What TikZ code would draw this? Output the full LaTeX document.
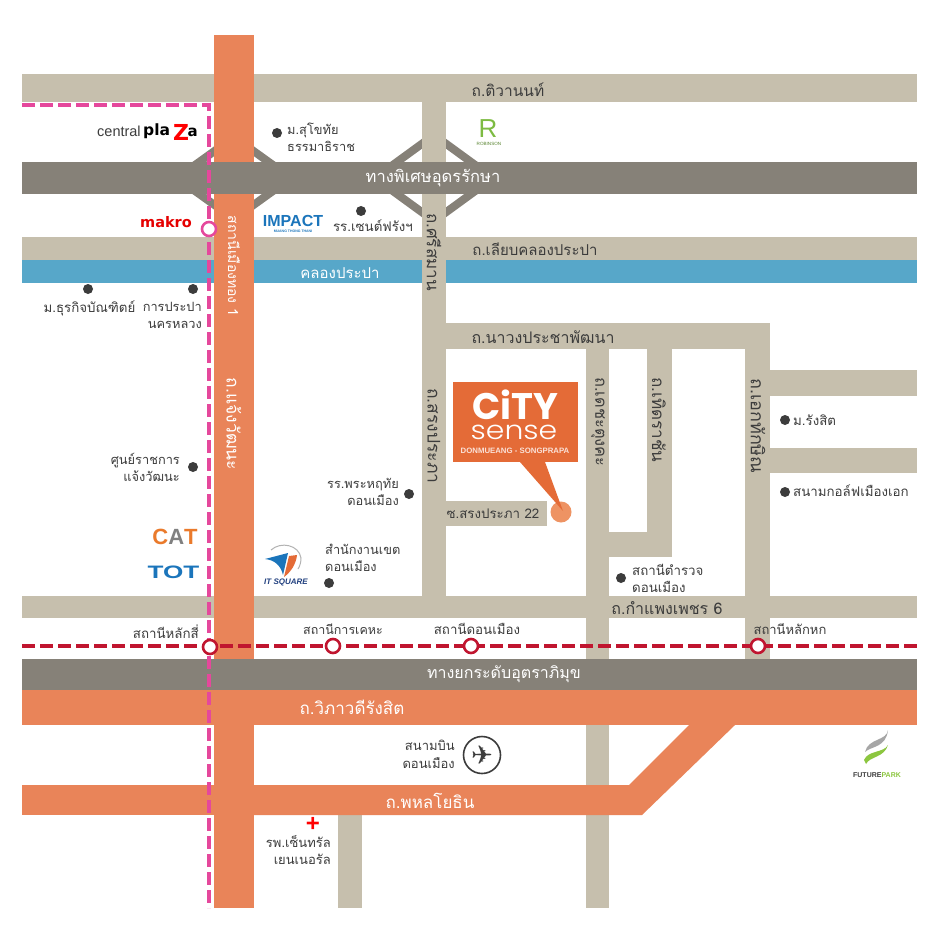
\documentclass[tikz,border=0pt]{standalone}
\usepackage{xcolor}
\usepackage{tikz}
\usepackage{fontspec}
\setmainfont[Script=Thai]{Loma}
\newfontfamily\logofont{Liberation Sans}
\newfontfamily\heavyfont{DejaVu Sans}
\newfontfamily\cityfont{Poppins}
\newfontfamily\senselight{Poppins Light}
\newfontfamily\planefont{DejaVu Sans}
\definecolor{roadcol}{HTML}{C6BFAD}
\definecolor{expresscol}{HTML}{868178}
\definecolor{maincol}{HTML}{E98459}
\definecolor{canalcol}{HTML}{57A7C9}
\definecolor{pinkcol}{HTML}{E5489C}
\definecolor{redcol}{HTML}{C0152F}
\definecolor{darkcol}{HTML}{3C3C3C}
\definecolor{citycol}{HTML}{E46B37}
\definecolor{pincol}{HTML}{EE9363}
\definecolor{logoblue}{HTML}{1B75BB}
\definecolor{navycol}{HTML}{21407F}
\definecolor{catcol}{HTML}{EA7A2B}
\definecolor{robincol}{HTML}{7DBB42}
\definecolor{parkcol}{HTML}{8CC63F}
\newcommand{\sz}[1]{\fontsize{#1}{#1}\selectfont}
\begin{document}
\begin{tikzpicture}[x=1pt, y=-1pt,
	road/.style = {fill=roadcol},
	express/.style = {fill=expresscol},
	mainroad/.style = {fill=maincol},
	ramp/.style = {draw=expresscol, line width=8pt},
	lbl/.style = {text=darkcol, font=\fontsize{13.3}{17}\selectfont, inner sep=0pt, align=center},
	lblr/.style = {lbl, align=right, anchor=east},
	lbll/.style = {lbl, align=left, anchor=west},
	rdlbl/.style = {lbl, font=\sz{15.5}},
	wlbl/.style = {text=white, font=\sz{16}, inner sep=0pt},
	vlbl/.style = {lbl, rotate=-90, font=\sz{17}},
	spot/.style = {circle, fill=darkcol, minimum size=10pt, inner sep=0pt},
	redst/.style = {circle, draw=redcol, fill=white, line width=2.6pt, minimum size=14pt, inner sep=0pt},
	pinkst/.style = {circle, draw=pinkcol, fill=white, line width=2.6pt, minimum size=14pt, inner sep=0pt},
	redline/.style = {draw=redcol, line width=3.8pt, dash pattern=on 13pt off 5pt},
	pinkline/.style = {draw=pinkcol, line width=3.8pt, dash pattern=on 13pt off 5pt},
	logo/.style = {inner sep=0pt}]
	\useasboundingbox (0,0) rectangle (941,941);
	\fill[white] (0,0) rectangle (941,941);

	\draw[ramp] (234,137) -- (177,178) -- (234,219) -- (291,178) -- cycle;
	\draw[ramp] (434,135) -- (375,178) -- (434,221) -- (493,178) -- cycle;
	\fill[road] (22,74) rectangle (917,102);
	\fill[road] (22,237) rectangle (917,260);
	\fill[canalcol] (22,260) rectangle (917,283);
	\fill[road] (422,102) rectangle (446,597);
	\fill[road] (446,323) rectangle (770,349);
	\fill[road] (586,349) rectangle (609,908);
	\fill[road] (647,349) rectangle (672,557);
	\fill[road] (609,532) rectangle (647,557);
	\fill[road] (745,349) rectangle (770,660);
	\fill[road] (770,370) rectangle (917,396);
	\fill[road] (770,448) rectangle (917,473);
	\fill[road] (446,501) rectangle (547,526);
	\fill[road] (22,596) rectangle (917,618);
	\fill[road] (338,815) rectangle (362,908);
	\fill[mainroad] (214,35) rectangle (254,908);
	\fill[express] (22,162) rectangle (917,194);
	\fill[express] (22,659) rectangle (917,690);
	\fill[mainroad] (22,690) rectangle (917,725);
	\fill[mainroad] (22,785) rectangle (254,815);
	\fill[mainroad] (254,785) -- (629,785) -- (689,725) -- (735,725) -- (642,815) -- (254,815) -- cycle;

	\coordinate (pinkW) at (22,105);
	\coordinate (pinkC) at (209,105);
	\coordinate (pinkS) at (209,908);
	\coordinate (redW) at (22,646);
	\coordinate (redE) at (917,646);
	\draw[pinkline] (pinkW) -- (pinkC) -- (pinkS);
	\draw[redline] (redW) -- (redE);
	\node[pinkst] (muangthong) at (209,229) {};
	\node[redst] (laksi) at (210,647) {};
	\node[redst] (kheha) at (333,646) {};
	\node[redst] (donmueang) at (471,646) {};
	\node[redst] (lakhok) at (758,646) {};

	\node[rdlbl] (tiwanon) at (508,90) {ถ.ติวานนท์};
	\node[wlbl, font=\sz{16.5}] (udon) at (433,178) {ทางพิเศษอุดรรักษา};
	\node[rdlbl, font=\sz{15}] (liap) at (535,249) {ถ.เลียบคลองประปา};
	\node[wlbl, font=\sz{15}] (canal) at (340,273) {คลองประปา};
	\node[rdlbl, font=\sz{16}] (nawong) at (543,337) {ถ.นาวงประชาพัฒนา};
	\node[lbl] (soi) at (493,514) {ซ.สรงประภา 22};
	\node[rdlbl, font=\sz{16}] (kamphaeng) at (667,608) {ถ.กำแพงเพชร 6};
	\node[wlbl] (uttara) at (504,674) {ทางยกระดับอุตราภิมุข};
	\node[wlbl, font=\sz{17}] (vibha) at (352,707) {ถ.วิภาวดีรังสิต};
	\node[wlbl, font=\sz{17}] (phahon) at (430,801) {ถ.พหลโยธิน};
	\node[vlbl] (srisaman) at (434,252) {ถ.ศรีสมาน};
	\node[vlbl, font=\sz{17.5}] (songprapa) at (434,436) {ถ.สรงประภา};
	\node[vlbl, font=\sz{16.4}] (decha) at (598,422) {ถ.เดชะตุงคะ};
	\node[vlbl] (therd) at (659,420) {ถ.เทิดราชัน};
	\node[vlbl, font=\sz{18}] (ekthak) at (758,426) {ถ.เอกทักษิณ};
	\node[wlbl, rotate=-90, font=\sz{14}] (mtst) at (234,266) {สถานีเมืองทอง 1};
	\node[wlbl, rotate=-90, font=\sz{17.5}] (chaeng) at (234,424) {ถ.แจ้งวัฒนะ};

	\node[spot] (d1) at (277,133) {};
	\node[lbll, font=\fontsize{12.8}{17}\selectfont] (sukhothai) at (287,137) {ม.สุโขทัย\\ธรรมาธิราช};
	\node[spot] (d2) at (361,211) {};
	\node[lbl] (french) at (373,226) {รร.เซนต์ฟรังฯ};
	\node[spot] (d3) at (88,289) {};
	\node[lbl] (dhurakij) at (89.5,308) {ม.ธุรกิจบัณฑิตย์};
	\node[spot] (d4) at (193,289) {};
	\node[lblr, font=\fontsize{12.8}{17}\selectfont] (prapa) at (202,315) {การประปา\\นครหลวง};
	\node[spot] (d5) at (193,467) {};
	\node[lblr, font=\fontsize{12.8}{17}\selectfont] (govt) at (180,467) {ศูนย์ราชการ\\แจ้งวัฒนะ};
	\node[spot] (d6) at (409,494) {};
	\node[lblr, font=\fontsize{12.8}{17}\selectfont] (phrahru) at (399,492) {รร.พระหฤทัย\\ดอนเมือง};
	\node[spot] (d7) at (329,583) {};
	\node[lbll, font=\fontsize{12.8}{17}\selectfont] (khet) at (325,558) {สำนักงานเขต\\ดอนเมือง};
	\node[spot] (d8) at (785,420) {};
	\node[lbll] (rangsit) at (793,420) {ม.รังสิต};
	\node[spot] (d9) at (785,492) {};
	\node[lbll] (golf) at (793,491) {สนามกอล์ฟเมืองเอก};
	\node[spot] (d10) at (621,578) {};
	\node[lbll] (police) at (632,578) {สถานีตำรวจ\\ดอนเมือง};

	\node[lblr] (laksilbl) at (199,632) {สถานีหลักสี่};
	\node[lbl, font=\sz{12.5}] (khehalbl) at (343,629) {สถานีการเคหะ};
	\node[lbl] (donlbl) at (477,629) {สถานีดอนเมือง};
	\node[lbl, font=\sz{13}] (hoklbl) at (790,629) {สถานีหลักหก};

	\node[lblr, font=\fontsize{13}{18}\selectfont] (airport) at (455,754) {สนามบิน\\ดอนเมือง};
	\node[circle, draw=darkcol, line width=1.6pt, minimum size=37pt, inner sep=0pt, text=darkcol, font=\planefont\sz{26}] (plane) at (482,755) {✈};
	\node[logo, text=red, font=\logofont\bfseries\sz{24}] (cross) at (313,824) {+};
	\node[lblr, font=\fontsize{13}{17}\selectfont] (central) at (331,850) {รพ.เซ็นทรัล\\เยนเนอรัล};

	\node[logo, anchor=west, text=darkcol, font=\logofont\sz{14.5}] (cplaza) at (97,131) {central};
	\node[logo, anchor=west, text=black, font=\heavyfont\bfseries\sz{15.5}] (plaPart) at (143,131) {pla};
	\node[logo, text=red, font=\heavyfont\bfseries\sz{22}] (zPart) at (181,132) {Z};
	\node[logo, anchor=east, text=black, font=\heavyfont\bfseries\sz{15}] (aPart) at (198,132) {a};
	\node[logo, text=red!90!black, font=\heavyfont\bfseries\sz{14.5}] (makro) at (166,222) {makro};
	\node[logo, text=logoblue, font=\logofont\bfseries\sz{16}] (impact) at (293,220.5) {IMPACT};
	\node[logo, text=logoblue, font=\logofont\bfseries\sz{3.5}] (mtt) at (293,231) {MUANG THONG THANI};
	\node[logo, text=robincol, font=\logofont\sz{26}] (robinson) at (488,129) {R};
	\node[logo, text=robincol!70!black, font=\logofont\sz{4.6}] (robtext) at (489,144) {ROBINSON};
	\node[logo, font=\logofont\bfseries\sz{22}] (cat) at (175,537) {\textcolor{catcol}{C}\textcolor{gray}{A}\textcolor{catcol}{T}};
	\node[logo, text=logoblue, font=\logofont\bfseries\sz{18}] (tot) at (173.5,572) {\scalebox{1.45}[1]{TOT}};

	\draw[gray!60, line width=1pt] (271,550) .. controls (281,541) and (299,545) .. (301,558) .. controls (301,562) and (300,566) .. (298,569);
	\fill[logoblue] (265,559) -- (288,553) -- (283,575) .. controls (281,566) and (275,560) .. (265,559) -- cycle;
	\fill[citycol] (284,577) -- (289,556) -- (297,555) .. controls (296,564) and (291,572) .. (284,577) -- cycle;
	\node[logo, text=navycol, font=\logofont\itshape\bfseries\sz{8}] (itsq) at (286,582) {IT SQUARE};

	\fill[gray!70] (888,730) .. controls (887,741) and (868,738) .. (865,752) .. controls (871,746) and (886,748) .. (888,730) -- cycle;
	\fill[parkcol] (888,745) .. controls (884,753) and (868,750) .. (864,760) -- (866,764) .. controls (870,756) and (884,758) .. (888,745) -- cycle;
	\node[logo, text=darkcol, font=\logofont\bfseries\sz{7}] (future) at (877,775) {FUTURE\textcolor{parkcol}{PARK}};

	\fill[pincol] (561,512) circle (10.5);
	\fill[citycol] (453,382) rectangle (578,462);
	\fill[citycol] (520,462) -- (545,462) -- (563,511) -- cycle;
	\node[logo, text=white, font=\cityfont\bfseries\sz{37}] (city) at (515,405) {CiTY};
	\node[logo, text=white, font=\senselight\sz{26}] (sense) at (514,432.5) {\scalebox{1.15}[1]{sense}};
	\node[logo, text=white!80!citycol, font=\logofont\bfseries\sz{7.8}] (donsong) at (515,451) {DONMUEANG - SONGPRAPA};
\end{tikzpicture}
\end{document}
